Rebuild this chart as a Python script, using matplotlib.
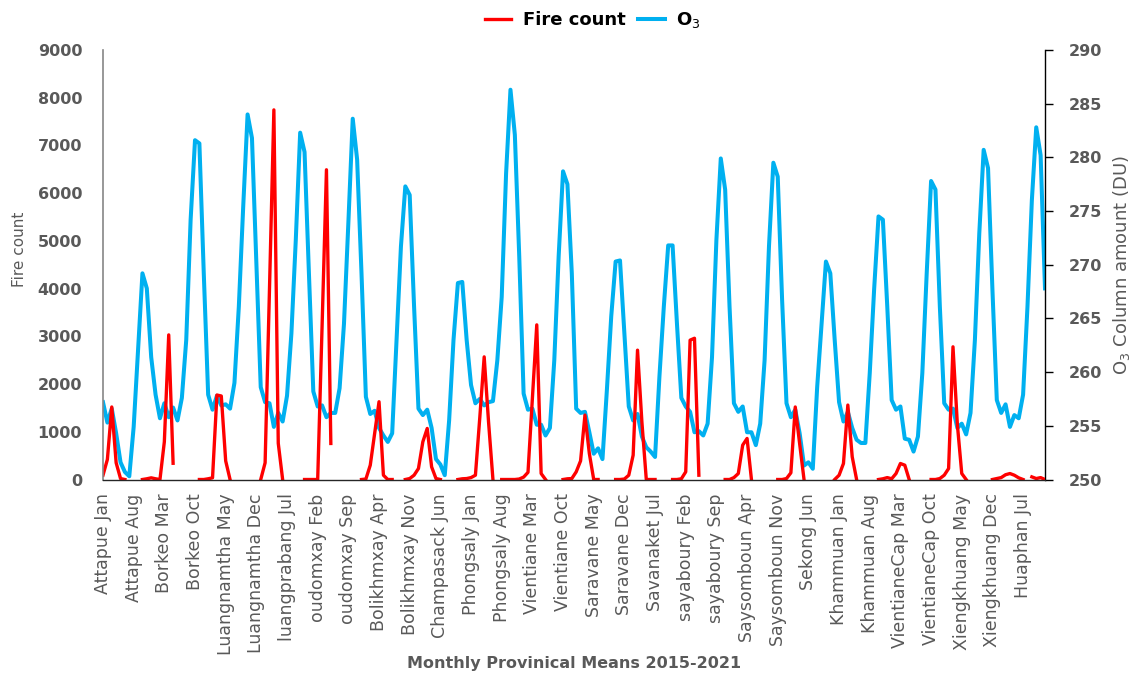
import numpy as np
from matplotlib import pyplot as plt
from matplotlib.transforms import ScaledTranslation

nan = np.nan

provinces = [
    'Attapue', 'Borkeo', 'Luangnamtha', 'luangprabang', 'oudomxay', 'Bolikhmxay',
    'Champasack', 'Phongsaly', 'Vientiane', 'Saravane', 'Savanaket', 'sayaboury',
    'Saysomboun', 'Sekong', 'Khammuan', 'VientianeCap', 'Xiengkhuang', 'Huaphan',
]
months = ['Jan', 'Feb', 'Mar', 'Apr', 'May', 'Jun', 'Jul', 'Aug', 'Sep', 'Oct', 'Nov', 'Dec']

# monthly fire count (blank months left as gaps)
fire_count = [
    90, 420, 1520, 350, 20, 0, nan, nan, nan, 0, 15, 35,
    15, 0, 790, 3030, 340, nan, nan, nan, nan, nan, 0, 0,
    15, 35, 1770, 1750, 390, 0, nan, nan, nan, nan, nan, nan,
    0, 350, 4000, 7745, 760, 0, nan, nan, nan, nan, 0, 0,
    0, 0, 3200, 6490, 755, nan, nan, nan, nan, nan, nan, 0,
    10, 300, 965, 1630, 90, 0, 0, nan, nan, 0, 20, 90,
    230, 790, 1070, 265, 20, 0, nan, nan, nan, 0, 15, 20,
    40, 90, 1300, 2570, 1200, 0, nan, 0, 0, 0, 0, 10,
    50, 150, 1700, 3240, 125, 0, nan, nan, nan, 0, 15, 20,
    160, 390, 1350, 545, 0, 0, nan, nan, nan, 0, 0, 10,
    90, 510, 2710, 1200, 0, 0, 0, nan, nan, nan, 0, 0,
    15, 160, 2920, 2960, 90, nan, nan, nan, nan, nan, 0, 0,
    40, 125, 720, 860, 0, nan, nan, nan, nan, nan, 0, 0,
    20, 140, 1520, 750, 0, nan, nan, nan, nan, nan, nan, 0,
    90, 335, 1560, 475, 0, nan, nan, nan, nan, 0, 15, 40,
    15, 125, 335, 300, 0, nan, nan, nan, nan, 0, 0, 20,
    90, 230, 2780, 1150, 125, 0, nan, nan, nan, nan, nan, 0,
    20, 40, 100, 125, 90, 35, 0, nan, 55, 20, 40, 0,
]

# O3 column amount (DU)
o3_du = [
    257.2, 255.3, 256.6, 254.3, 251.6, 250.7, 250.3, 254.9, 262.1, 269.2, 267.8, 261.4,
    257.9, 255.7, 257.1, 255.8, 256.7, 255.5, 257.6, 263.0, 274.2, 281.6, 281.3, 269.2,
    257.9, 256.5, 257.8, 256.9, 257.0, 256.6, 259.0, 266.1, 275.4, 284.0, 281.8, 270.2,
    258.6, 257.2, 257.1, 254.9, 256.2, 255.4, 257.8, 263.6, 272.3, 282.3, 280.5, 269.2,
    258.2, 256.8, 256.9, 255.8, 256.2, 256.2, 258.5, 264.5, 273.9, 283.6, 279.8, 269.2,
    257.7, 256.1, 256.4, 254.8, 254.1, 253.5, 254.3, 263.0, 271.7, 277.3, 276.5, 266.1,
    256.6, 256.0, 256.5, 254.8, 251.9, 251.4, 250.4, 255.5, 263.0, 268.3, 268.4, 263.0,
    258.8, 257.1, 257.5, 256.9, 257.2, 257.3, 261.1, 267.0, 278.5, 286.3, 282.1, 270.8,
    258.0, 256.5, 256.6, 255.1, 255.1, 254.1, 254.8, 261.1, 270.8, 278.7, 277.5, 269.2,
    256.6, 256.2, 256.3, 254.4, 252.4, 252.9, 251.9, 258.3, 265.2, 270.3, 270.4, 263.6,
    256.8, 255.5, 256.1, 254.0, 253.0, 252.6, 252.1, 259.6, 266.1, 271.8, 271.8, 264.5,
    257.6, 256.8, 256.3, 254.4, 254.5, 254.1, 255.2, 261.4, 272.3, 279.9, 277.0, 266.1,
    257.1, 256.3, 256.8, 254.4, 254.4, 253.2, 255.2, 261.1, 271.7, 279.5, 278.2, 266.7,
    257.1, 255.8, 256.5, 254.3, 251.3, 251.6, 251.0, 258.6, 264.5, 270.3, 269.2, 263.0,
    257.2, 255.4, 256.3, 254.8, 253.7, 253.4, 253.4, 259.9, 267.7, 274.5, 274.2, 266.1,
    257.4, 256.5, 256.8, 253.8, 253.7, 252.6, 254.0, 259.9, 269.2, 277.8, 277.0, 266.1,
    257.1, 256.5, 256.6, 254.8, 255.2, 254.2, 256.2, 263.0, 272.9, 280.7, 279.0, 267.7,
    257.4, 256.2, 257.0, 254.9, 256.0, 255.7, 257.9, 266.1, 276.0, 282.8, 280.2, 267.8,
]

grey = '#595959'
W, H = 1136, 677

x = np.arange(len(o3_du))
labels = [f'{provinces[i // 12]} {months[i % 12]}' for i in x]

fig = plt.figure(figsize=(W / 100, H / 100), dpi=100)
ax = fig.add_axes([103 / W, 1 - 479.5 / H, 942 / W, 429.5 / H])
ax2 = ax.twinx()

line_o3, = ax2.plot(x, o3_du, color='#00B0F0', linewidth=2.9, solid_joinstyle='round')
line_fire, = ax.plot(x, fire_count, color='#FF0000', linewidth=2.4, solid_joinstyle='round')

# fire line above the O3 line
ax.set_zorder(ax2.get_zorder() + 1)
ax.patch.set_visible(False)

ax.set_xlim(0, len(x) - 1)
ax.set_ylim(0, 9000)
ax.set_yticks(range(0, 9001, 1000))
ax2.set_ylim(250, 290)
ax2.set_yticks(range(250, 291, 5))

ax.set_xticks(x[::7])
ax.set_xticklabels(labels[::7], rotation=90, fontsize=12.5, color=grey)
shift = ScaledTranslation(4 / 100, 0, fig.dpi_scale_trans)
for lab in ax.get_xticklabels():
    lab.set_transform(lab.get_transform() + shift)
ax.tick_params(axis='x', length=0, pad=10)
ax.tick_params(axis='y', length=0, pad=15, labelsize=11.5, labelcolor=grey)
ax2.tick_params(axis='y', length=6, width=1, colors='black', direction='out',
                pad=11, labelsize=11.5, labelcolor=grey)
for lab in ax.get_yticklabels() + ax2.get_yticklabels():
    lab.set_fontweight('bold')

for s in ['top', 'right']:
    ax.spines[s].set_visible(False)
for s in ['top', 'left', 'bottom']:
    ax2.spines[s].set_visible(False)
ax.spines['left'].set_color('#868686')
ax.spines['left'].set_linewidth(1.2)
ax.spines['bottom'].set_color('#262626')
ax.spines['bottom'].set_linewidth(1.0)
ax2.spines['right'].set_color('black')
ax2.spines['right'].set_linewidth(1.0)

ax.set_ylabel('Fire count', fontsize=11, color=grey)
ax.yaxis.set_label_coords(-0.081, 0.535)
ax2.set_ylabel('O$_3$ Column amount (DU)', fontsize=13, color=grey)
ax2.yaxis.set_label_coords(1.07, 0.5)
ax.set_xlabel('Monthly Provinical Means 2015-2021', fontsize=11.5, fontweight='bold', color=grey)
ax.xaxis.set_label_coords(0.5, -0.411)

fig.legend(handles=[line_fire, line_o3], labels=['Fire count', 'O$_3$'],
           loc='center', bbox_to_anchor=(593 / W, 1 - 20 / H), ncol=2, frameon=False,
           prop={'weight': 'bold', 'size': 13}, handlelength=1.45,
           handletextpad=0.65, columnspacing=0.7)

fig.savefig('out.png', dpi=100)
